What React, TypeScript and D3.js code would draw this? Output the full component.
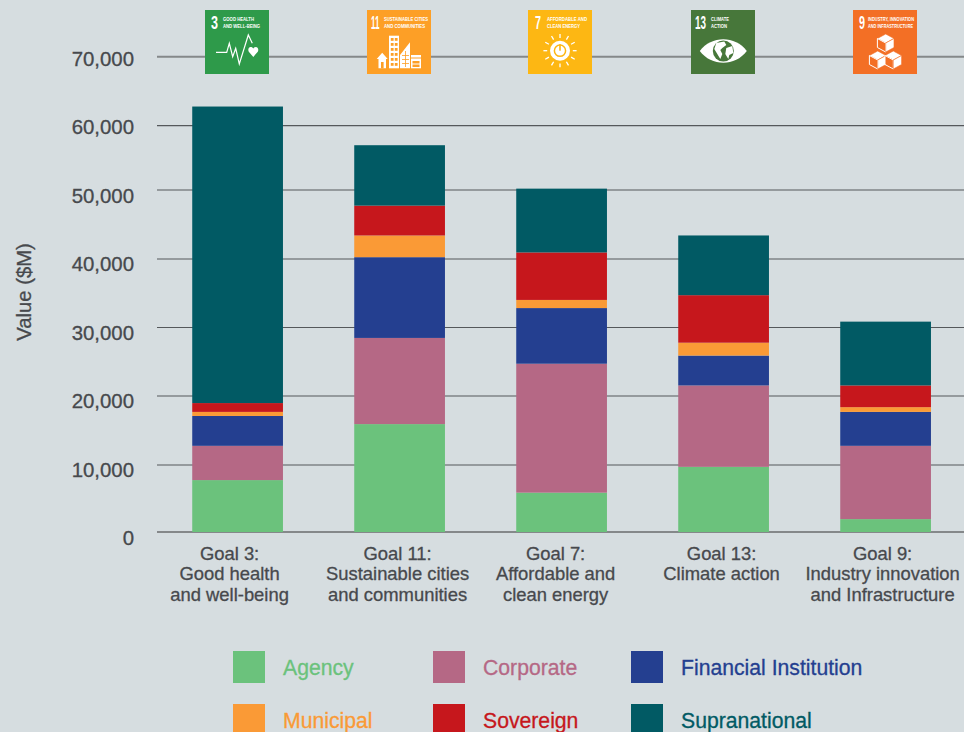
import React from "react";
import * as d3 from "d3";

const categories = ["Goal 3", "Goal 11", "Goal 7", "Goal 13", "Goal 9"];
const categoryLabels = [
  ["Goal 3:", "Good health", "and well-being"],
  ["Goal 11:", "Sustainable cities", "and communities"],
  ["Goal 7:", "Affordable and", "clean energy"],
  ["Goal 13:", "Climate action"],
  ["Goal 9:", "Industry innovation", "and Infrastructure"],
];
const seriesNames = ["Agency", "Corporate", "Financial Institution", "Municipal", "Sovereign", "Supranational"];
const agency = [7650, 15900, 5800, 9600, 1900];
const corporate = [5050, 12700, 19000, 12000, 10800];
const financialInstitution = [4400, 11900, 8200, 4400, 5000];
const municipal = [600, 3200, 1200, 1900, 700];
const sovereign = [1300, 4400, 7000, 7000, 3200];
const supranational = [43700, 8900, 9400, 8800, 9400];
const seriesValues = [agency, corporate, financialInstitution, municipal, sovereign, supranational];
const seriesColors = ["#6bc27c", "#b56885", "#243f90", "#fa9a36", "#c6171c", "#015a64"];
const yTicks = [0, 10000, 20000, 30000, 40000, 50000, 60000, 70000];
const gridPixels = [532, 465, 396, 327.5, 259, 190, 125.7, 56.7];
const labelNudge = [-8, -2, -6, -2, -3];

const sdgNumbers = ["3", "11", "7", "13", "9"];
const sdgTitles = [
  ["GOOD HEALTH", "AND WELL-BEING"],
  ["SUSTAINABLE CITIES", "AND COMMUNITIES"],
  ["AFFORDABLE AND", "CLEAN ENERGY"],
  ["CLIMATE", "ACTION"],
  ["INDUSTRY, INNOVATION", "AND INFRASTRUCTURE"],
];
const sdgColors = ["#2e9a4a", "#fd9f26", "#fdb713", "#47773a", "#f36f25"];
const sdgCenters = [237, 399, 560, 723, 885];
const sdgNumberLayout = [
  { x: 6, w: 7 },
  { x: 4, w: 9 },
  { x: 7, w: 6 },
  { x: 4, w: 11 },
  { x: 6, w: 6 },
];
const sdgTitleLayout = [
  { x: 18, w: [31, 37] },
  { x: 17, w: [44, 41] },
  { x: 19, w: [40, 33] },
  { x: 20, w: [18, 16] },
  { x: 15, w: [46, 45] },
];

const FONT = "'Liberation Sans', Arial, sans-serif";
const GREY = "#47494d";

function Icon({ kind }: { kind: number }) {
  const w = "#fff";
  if (kind === 0)
    return (
      <g>
        <path
          d="M-21 10.3 H-10.3 L-7.7 1.3 L-4.3 14.7 L-1.3 6.3 L2.3 22 L11.3 -7 L15.3 1.3"
          fill="none"
          stroke={w}
          strokeWidth={1.2}
        />
        <path d="M16.3 14.9 L11.8 9.8 C10 6 13.5 3.2 16.3 6.5 C19 3.2 22.6 6 20.8 9.8 Z" fill={w} />
      </g>
    );
  if (kind === 1)
    return (
      <g fill={w}>
        <path d="M-20.5 26.3 V17 H-22.3 L-16.8 10.7 L-11.3 17 H-13 V26.3 Z" />
        <rect x={-10} y={-6.3} width={10} height={32.6} />
        <path d="M1 26.3 V13 L11 0.3 V26.3 Z" />
        <rect x={12} y={13} width={10} height={13.3} />
        <g fill="#fd9f26">
          {[0, 1, 2, 3, 4, 5].map((i) => (
            <g key={i}>
              <rect x={-8.2} y={-4 + i * 5} width={2.8} height={2.8} />
              <rect x={-4.2} y={-4 + i * 5} width={2.8} height={2.8} />
            </g>
          ))}
          <rect x={12} y={15.5} width={10} height={1} />
          <rect x={13.5} y={19} width={7} height={2.5} />
          <rect x={13.5} y={22.5} width={7} height={2.5} />
          <rect x={3} y={13} width={7} height={0.8} />
          <rect x={3} y={17} width={7} height={0.8} />
          <rect x={3} y={21} width={7} height={0.8} />
          <rect x={6} y={9} width={0.8} height={16} />
          <rect x={-18} y={20} width={2.6} height={6.3} />
        </g>
      </g>
    );
  if (kind === 2)
    return (
      <g transform="translate(0,8.7)">
        <circle r={10} fill={w} />
        <circle r={5.6} fill="none" stroke="#fdb713" strokeWidth={1.5} />
        <rect x={-0.8} y={-6.5} width={1.6} height={6.5} fill="#fdb713" />
        {d3.range(12).map((i) => {
          const a = (i * Math.PI) / 6;
          const r0 = 12.8;
          const r1 = i % 3 === 0 ? 16.6 : 17;
          return (
            <line
              key={i}
              x1={r0 * Math.cos(a)}
              y1={r0 * Math.sin(a)}
              x2={r1 * Math.cos(a)}
              y2={r1 * Math.sin(a)}
              stroke={w}
              strokeWidth={1.3}
            />
          );
        })}
      </g>
    );
  if (kind === 3)
    return (
      <g transform="translate(0.3,9)">
        <path d="M-23.5 0 C-12 -15.6 12 -15.6 23.5 0 C12 15.6 -12 15.6 -23.5 0 Z" fill={w} />
        <circle r={10.5} fill="#47773a" />
        <path
          d="M-7 -8 L1 -9.5 L3 -6 L-1 -3 L-3 -1 L-1 3 L-3 8 L-6 3 L-9 -2 Z M3 -3 L9 -5 L10 2 L6 4 L5 8 L2 3 Z"
          fill={w}
        />
      </g>
    );
  const cube = (x: number, y: number, k: number) => (
    <g key={k} transform={`translate(${x},${y})`}>
      <path d="M0 -8 L8.3 -3.5 L0 1 L-8.3 -3.5 Z" fill={w} stroke="#f36f25" strokeWidth={0.6} />
      <path d="M-8.3 -3.5 L0 1 V10 L-8.3 5.5 Z" fill="#f36f25" stroke={w} strokeWidth={1} />
      <path d="M8.3 -3.5 L0 1 V10 L8.3 5.5 Z" fill={w} stroke="#f36f25" strokeWidth={0.6} />
    </g>
  );
  return (
    <g>
      {cube(-7.3, 17, 1)}
      {cube(8.3, 17, 2)}
      {cube(0.7, 0, 0)}
    </g>
  );
}

export default function App() {
  const W = 964;
  const H = 732;
  const y = d3.scaleLinear().domain([0, 70000]).range([532, 57]);
  const yGrid = d3.scaleLinear().domain(yTicks).range(gridPixels);
  const yLabel = d3.scaleLinear().domain([0, 70000]).range([545, 66]);
  const x = d3.scaleBand<string>().domain(categories).range([156.6, 966.6]).paddingInner(0.44).paddingOuter(0.22);

  const rows = categories.map((c, i) => {
    const r: Record<string, any> = { c };
    seriesNames.forEach((s, j) => (r[s] = seriesValues[j][i]));
    return r;
  });
  const stacked = d3.stack<any>().keys(seriesNames)(rows);

  const legendX = d3.scaleOrdinal<number, number>().domain([0, 1, 2]).range([233, 433, 631]);
  const legendY = d3.scaleOrdinal<number, number>().domain([0, 1]).range([651, 704]);
  const weight = (c: string) => ({ stroke: c, strokeWidth: 0.3 });

  return (
    <svg
      width={W}
      height={H}
      viewBox={`0 0 ${W} ${H}`}
      style={{ position: "fixed", left: 0, top: 0, background: "#d6dde0", fontFamily: FONT }}
    >
      <rect width={W} height={H} fill="#d6dde0" />
      {yTicks.map((t) => (
        <g key={t}>
          <line
            x1={157}
            x2={W}
            y1={yGrid(t)}
            y2={yGrid(t)}
            stroke={t === 0 || t === 70000 ? "#85888a" : "#55585b"}
            strokeWidth={t === 0 || t === 70000 ? 2 : 1.2}
          />
          <text x={134} y={yLabel(t)} textAnchor="end" fontSize={20.4} fill={GREY} {...weight(GREY)}>
            {t === 0 ? "0" : d3.format(",")(t)}
          </text>
        </g>
      ))}
      <text transform="translate(31,292) rotate(-90)" textAnchor="middle" fontSize={20.3} fill={GREY} {...weight(GREY)}>
        Value ($M)
      </text>

      {stacked.map((s, j) => (
        <g key={s.key} fill={seriesColors[j]}>
          {s.map((d, i) => (
            <rect key={i} x={x(categories[i])} width={x.bandwidth()} y={y(d[1])} height={y(d[0]) - y(d[1])} />
          ))}
        </g>
      ))}

      {categories.map((c, i) => (
        <text key={c} textAnchor="middle" fontSize={18.4} fill={GREY} {...weight(GREY)}>
          {categoryLabels[i].map((line, k) => (
            <tspan key={k} x={x(c)! + x.bandwidth() / 2 + labelNudge[i]} y={559.5 + k * 20.7}>
              {line}
            </tspan>
          ))}
        </text>
      ))}

      {sdgNumbers.map((n, i) => {
        const cx = sdgCenters[i];
        const left = cx - 32;
        const num = sdgNumberLayout[i];
        const title = sdgTitleLayout[i];
        return (
          <g key={n}>
            <rect x={left} y={10} width={64} height={64} fill={sdgColors[i]} />
            <text
              transform={`translate(${left + num.x},29) scale(${num.w / (10 * n.length)},1)`}
              fontSize={18}
              fontWeight={700}
              fill="#fff"
            >
              {n}
            </text>
            <g fill="#fff" fontSize={5.4} fontWeight={700}>
              {sdgTitles[i].map((line, k) => (
                <text key={k} x={left + title.x} y={21 + k * 7} textLength={title.w[k]} lengthAdjust="spacingAndGlyphs">
                  {line}
                </text>
              ))}
            </g>
            <g transform={`translate(${cx},${42})`}>
              <Icon kind={i} />
            </g>
          </g>
        );
      })}

      {seriesNames.map((s, j) => {
        const lx = legendX(j % 3);
        const ly = legendY(Math.floor(j / 3));
        return (
          <g key={s}>
            <rect x={lx} y={ly} width={32} height={32} fill={seriesColors[j]} />
            <text x={lx + 50} y={ly + 24} fontSize={21.2} fill={seriesColors[j]} {...weight(seriesColors[j])}>
              {s}
            </text>
          </g>
        );
      })}
    </svg>
  );
}
